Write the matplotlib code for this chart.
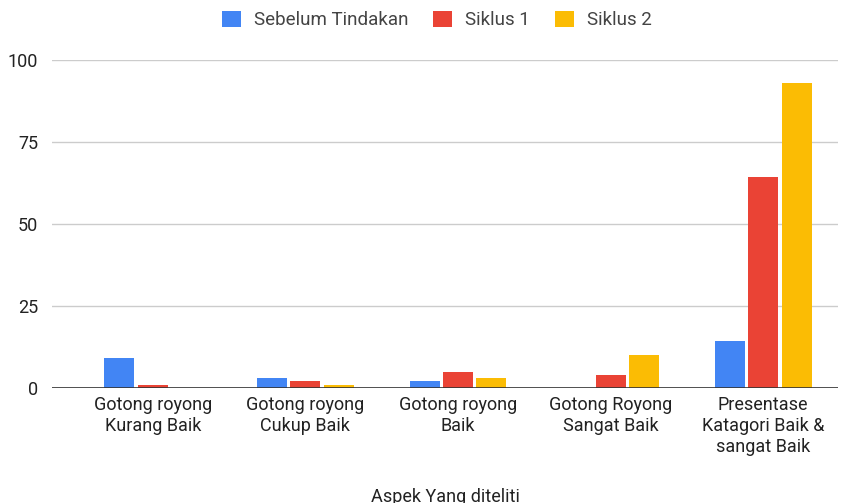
import matplotlib.pyplot as plt
import numpy as np

plt.rcParams['font.family'] = ['Roboto', 'DejaVu Sans']

kategori = ["Gotong royong\nKurang Baik", "Gotong royong\nCukup Baik", "Gotong royong\nBaik",
            "Gotong Royong\nSangat Baik", "Presentase\nKatagori Baik &\nsangat Baik"]
sebelum = [9, 3, 2, 0, 14.3]
siklus1 = [1, 2, 5, 4, 64.3]
siklus2 = [0, 1, 3, 10, 92.9]
series = ["Sebelum Tindakan", "Siklus 1", "Siklus 2"]
warna = ["#4285f4", "#ea4335", "#fbbc04"]

fig = plt.figure(figsize=(8.53, 5.03), dpi=100)
ax = fig.add_axes([52/853, 1-388/503, 786/853, 328/503])

x = np.arange(len(kategori))
w = 0.196
for i, (vals, nm, c) in enumerate(zip([sebelum, siklus1, siklus2], series, warna)):
    ax.bar(x + (i-1)*0.219, vals, width=w, color=c, label=nm, zorder=3)

ax.set_xlim(-0.66, 4.49)
ax.set_ylim(0, 100)
ax.set_yticks([0, 25, 50, 75, 100])
ax.yaxis.grid(True, color="#cccccc", linewidth=1, zorder=0)
ax.axhline(0, color="#333333", linewidth=1.2, zorder=4)
for s in ax.spines.values():
    s.set_visible(False)
ax.tick_params(axis='both', length=0, labelsize=13, colors="#222222")
ax.tick_params(axis='y', pad=10)
ax.tick_params(axis='x', pad=6)
ax.set_xticks(x)
ax.set_xticklabels(kategori, fontsize=13, color="#222222", linespacing=1.2)

# judul sumbu x, sebagian terpotong di bawah seperti aslinya
fig.text(445/853, 1-497/503, "Aspek Yang diteliti", fontsize=13, color="#222222",
         ha="center", va="center")

leg = fig.legend(loc="center", bbox_to_anchor=(437/853, 1-20/503), ncol=3, frameon=False,
                 fontsize=13.5, handlelength=1.0, handleheight=1.0, columnspacing=1.35,
                 handletextpad=0.7, labelcolor="#444444")
plt.savefig("out.png", dpi=100)
